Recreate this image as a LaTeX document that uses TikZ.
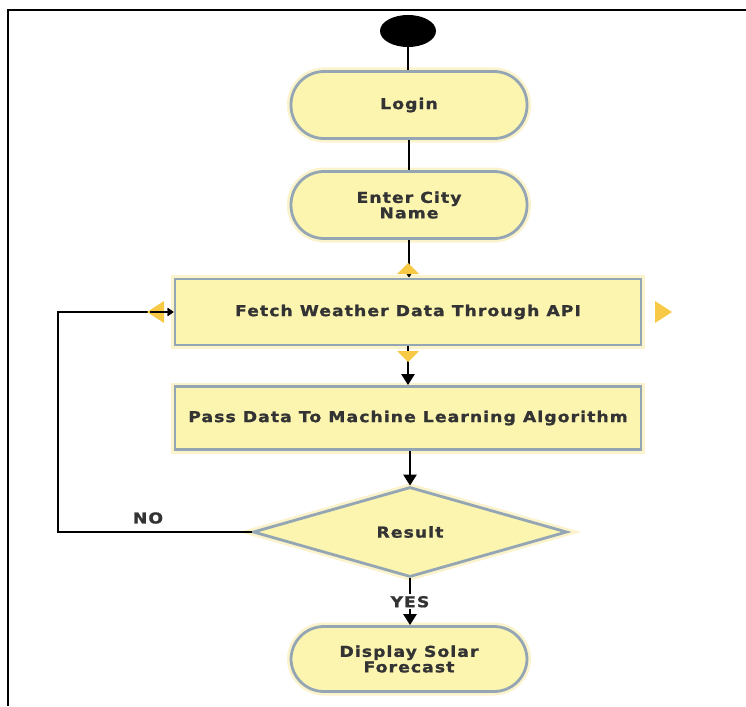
\documentclass[tikz,border=0pt]{standalone}
\usepackage{fontspec}
\setmainfont{DejaVu Sans}[LetterSpace=7,FakeStretch=1.15]
\newfontfamily\heavyfont{DejaVu Sans Bold}[LetterSpace=7,FakeStretch=1.15,FakeBold=1.2]
\usetikzlibrary{arrows.meta,shapes.geometric}
\definecolor{boxfill}{HTML}{FCF5B0}
\definecolor{boxline}{HTML}{94A6B4}
\definecolor{glow}{HTML}{FBF3CC}
\definecolor{txt}{HTML}{333333}
\definecolor{handle}{HTML}{F8C944}
\begin{document}
\begin{tikzpicture}[x=1pt,y=-1pt,
  base/.style={fill=boxfill,draw=boxline,line width=2.8pt,text=txt,font=\heavyfont\fontsize{15}{15.5}\selectfont,align=center,inner sep=0pt,
    preaction={draw=glow,line width=8pt}},
  stadium/.style={base,minimum width=236pt,minimum height=67pt,rounded corners=33pt},
  procbox/.style={base,minimum width=466pt,minimum height=66pt},
  decision/.style={base,diamond,minimum width=314pt,minimum height=90pt,aspect=3.5},
  conn/.style={line width=2.5pt,draw=black},
  arr/.style={conn,-{Triangle[length=11pt,width=13pt]}},
  smallarr/.style={conn,-{Triangle[length=6pt,width=8pt]}},
  handlemark/.style={fill=handle,draw=none},
  lbl/.style={text=txt,font=\heavyfont\fontsize{15}{15.5}\selectfont}]
\useasboundingbox (0,0) rectangle (746,706);
\fill[white] (0,0) rectangle (746,706);
% frame
\draw[line width=2pt] (8,706) -- (8,10) -- (746,10);

\node[fill=black,ellipse,minimum width=56pt,minimum height=32pt,inner sep=0pt] (start) at (408,31) {};
\node[stadium] (login) at (409,105) {Login};
\node[stadium] (city) at (409,205) {Enter City\\Name};
\node[procbox] (fetch) at (408,312) {Fetch Weather Data Through API};
\node[procbox,minimum height=63pt] (pass) at (408,418) {Pass Data To Machine Learning Algorithm};
\node[decision] (result) at (410,532) {Result};
\node[stadium,minimum height=65pt] (display) at (409,659) {Display Solar\\Forecast};

\draw[conn] (start.south) -- (start.south |- login.north);
\draw[conn] (login) -- (city);
\draw[smallarr] (city) -- (city.south |- fetch.north);
\draw[arr] (fetch) -- (fetch.south |- pass.north);
\draw[arr] (pass.south -| result.north) -- (result.north);
\draw[arr] (result.south) -- node[lbl,fill=white,inner sep=2pt] (yes) {YES} (result.south |- display.north);
\coordinate (loopbot) at (58,532);
\coordinate (looptop) at (58,312);
\draw[smallarr] (result.west) -- (loopbot) -- (looptop) -- (fetch.west);
\node[lbl] (no) at (148,518) {NO};

% yellow handles
\fill[handlemark] (397,274) -- (419,274) -- (408,263) -- cycle;
\fill[handlemark] (397,351) -- (419,351) -- (408,362) -- cycle;
\fill[handlemark] (655,301) -- (655,323) -- (672,312) -- cycle;
\fill[handlemark] (164,301) -- (164,323) -- (147,312) -- cycle;
\draw[smallarr] (150,312) -- (fetch.west);
\end{tikzpicture}
\end{document}
